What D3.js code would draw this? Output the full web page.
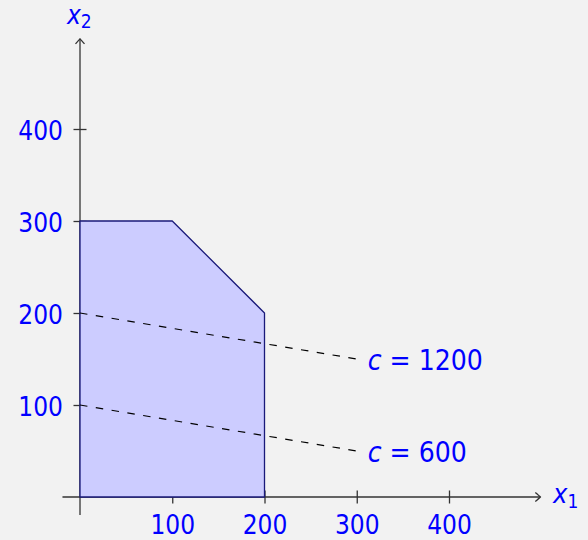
<!DOCTYPE html>
<html>
<head>
<meta charset="utf-8">
<script src="https://cdn.jsdelivr.net/npm/d3@7"></script>
<style>
  html, body { margin: 0; padding: 0; background: #f2f2f2; }
  svg text { font-family: "Liberation Sans Narrow", "DejaVu Sans Condensed", "Liberation Sans", sans-serif; fill: #0000ff; }
</style>
</head>
<body>
<div id="chart"></div>
<script>
// Feasible region vertices (x1, x2)
const regionX1 = [0, 0, 100, 200, 200];
const regionX2 = [0, 300, 300, 200, 0];

// Objective lines c = x1 + 6*x2, drawn from x1 = 0 to x1 = 300
const objValues = [1200, 600];
const objEnds = [0, 300];

// Tick labels
const xTicks = [100, 200, 300, 400];
const yTicks = [100, 200, 300, 400];

function drawChart(containerId = "chart") {
    const container = d3.select(`#${containerId}`);
    container.selectAll("*").remove();

    const W = 588, H = 540;
    const svg = container.append("svg")
        .attr("width", W)
        .attr("height", H);

    const x = d3.scaleLinear().domain([0, 400]).range([80, 449]);
    const y = d3.scaleLinear().domain([0, 400]).range([497, 129]);

    const axisColor = "#333";
    const lw = 1.3;
    const tickLen = 6.5;
    const fs = "26px";

    // x axis ticks + labels
    const gx = svg.append("g")
        .attr("transform", `translate(0,${y(0)})`)
        .call(d3.axisBottom(x).tickValues(xTicks).tickSize(tickLen).tickFormat(d3.format("d")));
    gx.select(".domain").remove();
    gx.selectAll(".tick line")
        .attr("y1", -tickLen)
        .attr("stroke", axisColor)
        .attr("stroke-width", lw);
    gx.selectAll(".tick text")
        .attr("y", 37)
        .attr("dy", 0)
        .style("font-size", fs)
        .attr("fill", "#0000ff");

    // y axis ticks + labels
    const gy = svg.append("g")
        .attr("transform", `translate(${x(0)},0)`)
        .call(d3.axisLeft(y).tickValues(yTicks).tickSize(tickLen).tickFormat(d3.format("d")));
    gy.select(".domain").remove();
    gy.selectAll(".tick line")
        .attr("x1", tickLen)
        .attr("stroke", axisColor)
        .attr("stroke-width", lw);
    gy.selectAll(".tick text")
        .attr("x", -17)
        .attr("dy", 0)
        .attr("y", 10)
        .style("font-size", fs)
        .attr("fill", "#0000ff");

    // axis lines with arrow heads
    const xEnd = x(499), yEnd = y(498);
    svg.append("line")
        .attr("x1", x(-19)).attr("y1", y(0))
        .attr("x2", xEnd).attr("y2", y(0))
        .attr("stroke", axisColor).attr("stroke-width", lw);
    svg.append("line")
        .attr("x1", x(0)).attr("y1", y(-19.5))
        .attr("x2", x(0)).attr("y2", yEnd)
        .attr("stroke", axisColor).attr("stroke-width", lw);

    svg.append("path")
        .attr("d", `M${xEnd - 5},${y(0) - 4.5} Q${xEnd - 1},${y(0) - 1} ${xEnd},${y(0)} Q${xEnd - 1},${y(0) + 1} ${xEnd - 5},${y(0) + 4.5}`)
        .attr("fill", "none").attr("stroke", axisColor).attr("stroke-width", lw);
    svg.append("path")
        .attr("d", `M${x(0) - 4.5},${yEnd + 5} Q${x(0) - 1},${yEnd + 1} ${x(0)},${yEnd} Q${x(0) + 1},${yEnd + 1} ${x(0) + 4.5},${yEnd + 5}`)
        .attr("fill", "none").attr("stroke", axisColor).attr("stroke-width", lw);

    // feasible region
    const pts = regionX1.map((v, i) => [x(v), y(regionX2[i])]);
    svg.append("path")
        .attr("d", d3.line()(pts) + "Z")
        .attr("fill", "#ccccff")
        .attr("stroke", "#1a1a7a")
        .attr("stroke-width", lw)
        .attr("stroke-linejoin", "round");

    // objective lines
    objValues.forEach(c => {
        const a = [objEnds[0], (c - objEnds[0]) / 6];
        const b = [objEnds[1], (c - objEnds[1]) / 6];
        svg.append("line")
            .attr("x1", x(a[0])).attr("y1", y(a[1]))
            .attr("x2", x(b[0])).attr("y2", y(b[1]))
            .attr("stroke", "#000")
            .attr("stroke-width", 1.2)
            .attr("stroke-dasharray", "7.5,8.5");

        const t = svg.append("text")
            .attr("x", x(b[0]) + 11)
            .attr("y", y(b[1]) + 11)
            .style("font-size", "28px");
        t.append("tspan").style("font-style", "italic").text("c");
        t.append("tspan").text(" = " + c);
    });

    // axis labels
    const xl = svg.append("text")
        .attr("x", 553).attr("y", 503)
        .style("font-size", "27px");
    xl.append("tspan").style("font-style", "italic").text("x");
    xl.append("tspan").attr("dy", 5).style("font-size", "19px").text("1");

    const yl = svg.append("text")
        .attr("x", 67).attr("y", 24)
        .style("font-size", "26px");
    yl.append("tspan").style("font-style", "italic").text("x");
    yl.append("tspan").attr("dy", 4).style("font-size", "19px").text("2");
}

drawChart();
</script>
</body>
</html>
